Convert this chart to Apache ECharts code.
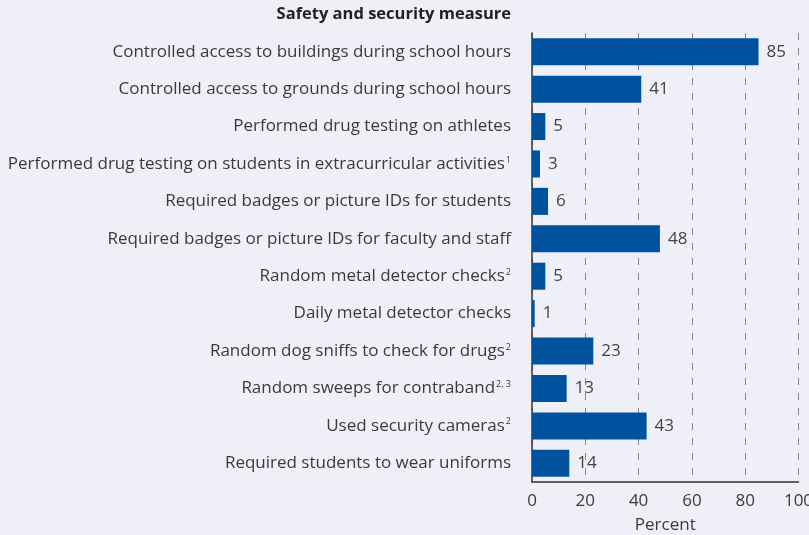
<!DOCTYPE html>
<html><head><meta charset="utf-8">
<script src="https://cdn.jsdelivr.net/npm/echarts@6/dist/echarts.min.js"></script>
<style>html,body{margin:0;padding:0;background:#efeff8;}#c{width:809px;height:535px;}</style>
</head><body><div id="c"></div>
<script>
const categories = [
  "Controlled access to buildings during school hours",
  "Controlled access to grounds during school hours",
  "Performed drug testing on athletes",
  "Performed drug testing on students in extracurricular activities",
  "Required badges or picture IDs for students",
  "Required badges or picture IDs for faculty and staff",
  "Random metal detector checks",
  "Daily metal detector checks",
  "Random dog sniffs to check for drugs",
  "Random sweeps for contraband",
  "Used security cameras",
  "Required students to wear uniforms"
];
const footnotes = ["", "", "", "1", "", "", "2", "", "2", "2, 3", "2", ""];
const values = [85, 41, 5, 3, 6, 48, 5, 1, 23, 13, 43, 14];
const xTicks = [0, 20, 40, 60, 80, 100];

const FONT = "Open Sans";
const FS = 17;
const chart = echarts.init(document.getElementById('c'));
chart.setOption({
  backgroundColor: '#efeff8',
  animation: false,
  textStyle: { fontFamily: FONT },
  graphic: [{
    type: 'text', right: 298, top: 6,
    style: { text: 'Safety and security measure', font: 'bold 16.5px "' + FONT + '"', fill: '#222', textAlign: 'right' }
  }],
  grid: { left: 532, right: 10.5, top: 33, bottom: 53, containLabel: false, outerBoundsMode: 'none' },
  xAxis: {
    type: 'value', min: 0, max: 100, interval: 20,
    name: 'Percent', nameLocation: 'middle', nameGap: 35,
    nameTextStyle: { fontSize: FS, color: '#3a3a3a', fontFamily: FONT },
    axisLine: { show: true, lineStyle: { color: '#333', width: 1.5 } },
    axisTick: { show: false },
    axisLabel: { fontSize: FS, color: '#3a3a3a', margin: 11, fontFamily: FONT,
      formatter: v => xTicks.includes(v) ? String(v) : '' },
    splitLine: { show: true, lineStyle: { color: '#888', type: [7, 8], width: 1 } }
  },
  yAxis: {
    type: 'category', inverse: true,
    data: categories.map((c, i) => footnotes[i] ? c + '{s|' + footnotes[i] + '}' : c),
    axisLine: { show: true, lineStyle: { color: '#333', width: 1.5 } },
    axisTick: { show: false },
    axisLabel: {
      fontSize: FS, color: '#3a3a3a', margin: 21, fontFamily: FONT,
      rich: { s: { fontSize: 9, color: '#3a3a3a', verticalAlign: 'top', padding: [0, 0, 8, 1], fontFamily: FONT } }
    }
  },
  series: [{
    type: 'bar', data: values, barWidth: 27,
    itemStyle: { color: '#00529f' },
    label: { show: true, position: 'right', distance: 8, fontSize: FS, color: '#444', fontFamily: FONT },
    z: 3
  }]
});
</script></body></html>
